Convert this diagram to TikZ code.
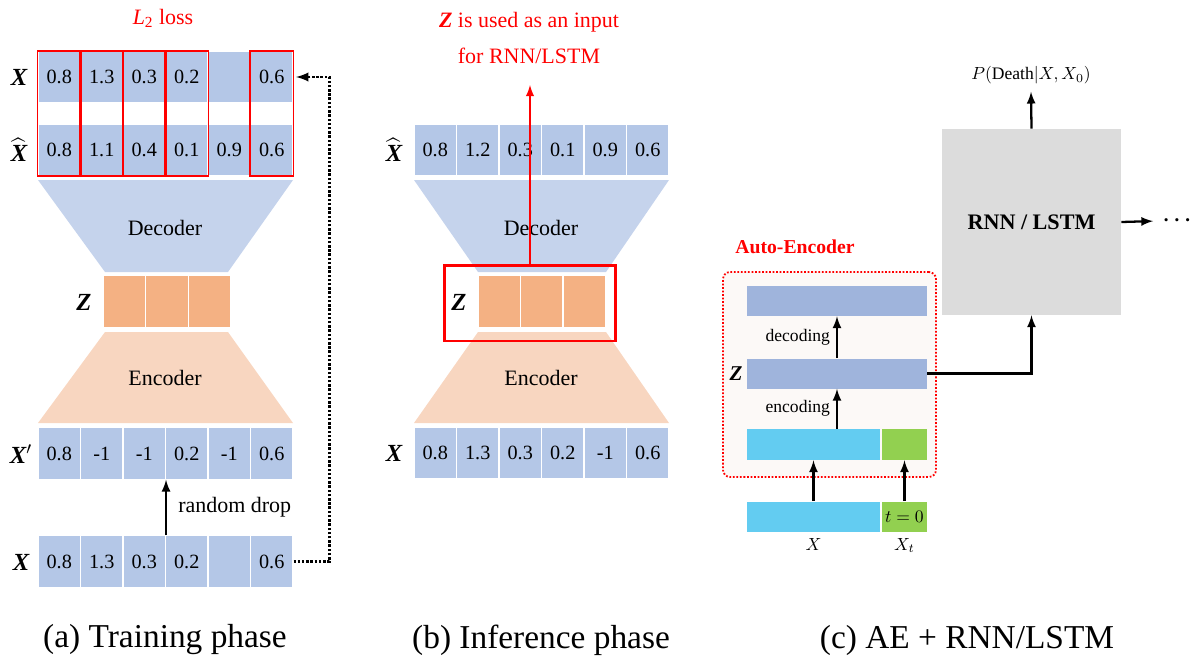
\documentclass[tikz,border=0pt]{standalone}
\usepackage{fontspec}
\setmainfont{Liberation Serif}
\usepackage{amsmath}

\definecolor{cellblue}{HTML}{B4C7E7}
\definecolor{decblue}{HTML}{C5D3EC}
\definecolor{zorange}{HTML}{F4B183}
\definecolor{encpeach}{HTML}{F8D6C0}
\definecolor{aebar}{HTML}{9FB4DC}
\definecolor{incyan}{HTML}{63CCF1}
\definecolor{tgreen}{HTML}{92D050}
\definecolor{rnngray}{HTML}{DCDCDC}
\definecolor{aefill}{HTML}{FCF9F7}

\begin{document}
\begin{tikzpicture}[x=0.02cm, y=-0.02cm, >=latex,
  cell/.style={draw=white, line width=0.6pt, fill=cellblue, minimum width=0.85cm, minimum height=1.03cm, inner sep=0pt, font=\fontsize{11.5}{13}\selectfont},
  zcell/.style={cell, fill=zorange},
  vec/.style={inner sep=1pt, font=\fontsize{14}{16}\selectfont\bfseries\itshape},
  body/.style={font=\fontsize{12.5}{15}\selectfont},
  small/.style={font=\fontsize{10}{12}\selectfont},
  caption/.style={font=\fontsize{19}{22}\selectfont},
  lossbox/.style={draw=red, line width=1.1pt},
  bar/.style={fill=aebar, minimum width=3.6cm, minimum height=0.6cm, inner sep=0pt},
  arr/.style={->, line width=1.3pt}]
\useasboundingbox (0,0) rectangle (1197,670) ;

% (a) training phase
\node[body, text=red] (loss) at (163,18) {\textit{L}\textsubscript{2} loss} ;
\foreach \v [count=\i] in {0.8,1.3,0.3,0.2,{},0.6}
  \node[cell] (xa\i) at (16.75+42.5*\i,77) {\v} ;
\foreach \v [count=\i] in {0.8,1.1,0.4,0.1,0.9,0.6}
  \node[cell] (xh\i) at (16.75+42.5*\i,150) {\v} ;
\foreach \i in {1,2,3,4,6}
  \draw[lossbox] (xa\i.north west) rectangle (xh\i.south east) ;
\node[vec] (la) at (19,77) {X} ;
\node[vec] (lh) at (19,150) {$\widehat{\mbox{X}}$} ;

\fill[decblue] (38,180) -- (293,180) -- (228,272) -- (105,272) -- cycle ;
\node[body] (deca) at (165,228) {Decoder} ;
\foreach \i in {1,2,3}
  \node[zcell] (za\i) at (82+42.5*\i,301.5) {} ;
\node[vec] (lza) at (84,302) {Z} ;
\fill[encpeach] (105,332) -- (228,332) -- (293,423) -- (38,423) -- cycle ;
\node[body] (enca) at (165,378) {Encoder} ;

\foreach \v [count=\i] in {0.8,-1,-1,0.2,-1,0.6}
  \node[cell] (xp\i) at (16.75+42.5*\i,453.5) {\v} ;
\node[vec] (lp) at (21,454) {$\mbox{X}'$} ;
\foreach \v [count=\i] in {0.8,1.3,0.3,0.2,{},0.6}
  \node[cell] (xb\i) at (16.75+42.5*\i,561.5) {\v} ;
\node[vec] (lb) at (21,562) {X} ;

\draw[arr] (xb3.north east) -- (xp3.south east) node[midway, right, body, xshift=3pt] {random drop} ;
\draw[->, densely dotted, line width=1.4pt, shorten >=1.5pt] (xb6.east) -- ++(36,0) |- (xa6.east) ;

% (b) inference phase
\node[body, text=red, align=center, font=\fontsize{12.5}{20}\selectfont] (zlbl) at (529,38) {\textbf{\textit{Z}} is used as an input\\for RNN/LSTM} ;
\foreach \v [count=\i] in {0.8,1.2,0.3,0.1,0.9,0.6}
  \node[cell] (yh\i) at (392.75+42.5*\i,150) {\v} ;
\node[vec] (lyh) at (394,150) {$\widehat{\mbox{X}}$} ;
\fill[decblue] (414,180) -- (669,180) -- (606,272) -- (478,272) -- cycle ;
\node[body] (decb) at (541,228) {Decoder} ;
\foreach \i in {1,2,3}
  \node[zcell] (zb\i) at (456.75+42.5*\i,301.5) {} ;
\node[vec] (lzb) at (459,302) {Z} ;
\fill[encpeach] (478,332) -- (606,332) -- (669,423) -- (414,423) -- cycle ;
\node[body] (encb) at (541,378) {Encoder} ;
\foreach \v [count=\i] in {0.8,1.3,0.3,0.2,-1,0.6}
  \node[cell] (yx\i) at (392.75+42.5*\i,453) {\v} ;
\node[vec] (lyx) at (394,453) {X} ;

\node[draw=red, line width=1.7pt, minimum width=3.44cm, minimum height=1.52cm] (zfr) at (530,303) {} ;
\coordinate (ztip) at (530,85) ;
\draw[->, red, line width=1.2pt] (zfr.north) -- (ztip) ;

% (c) AE + RNN/LSTM
\node[fill=rnngray, minimum width=3.58cm, minimum height=3.72cm, font=\fontsize{12.6}{15}\selectfont\bfseries] (rnn) at (1031.5,222) {RNN / LSTM} ;
\node[small] (pout) at (1031,75) {$P(\mathrm{Death}|X,X_0)$} ;
\draw[arr, shorten >=1pt] (rnn.north) -- (pout.south) ;
\node[font=\fontsize{12}{14}\selectfont] (more) at (1179,221) {$\boldsymbol{\cdots}$} ;
\draw[arr, shorten >=2pt] (rnn.east) -- (more.west) ;

\node[draw=red, densely dotted, line width=1pt, rounded corners=4pt, fill=aefill, minimum width=4.26cm, minimum height=4.1cm] (ae) at (829.5,374.5) {} ;
\node[font=\fontsize{11.2}{13}\selectfont\bfseries, text=red] (aelbl) at (795,247) {Auto-Encoder} ;
\node[bar] (bdec) at (837,301) {} ;
\node[bar] (bz) at (837,373.5) {} ;
\node[bar, fill=incyan, minimum width=2.66cm, minimum height=0.62cm] (bin) at (813.5,444.5) {} ;
\node[bar, fill=tgreen, minimum width=0.9cm, minimum height=0.62cm] (bgr) at (904.5,444.5) {} ;
\node[bar, fill=incyan, minimum width=2.66cm] (bxin) at (813.5,516.5) {} ;
\node[bar, fill=tgreen, minimum width=0.9cm, small] (bt) at (904.5,516.5) {$t=0$} ;
\node[font=\fontsize{12}{14}\selectfont\bfseries\itshape] (lzc) at (736,374) {Z} ;

\draw[arr] (bxin.north) -- (bin.south) ;
\draw[arr] (bt.north) -- (bgr.south) ;
\draw[arr] (bz.south |- bin.north) -- (bz.south) node[midway, left, small] {encoding} ;
\draw[arr] (bz.north) -- (bdec.south) node[midway, left, small] {decoding} ;
\draw[arr] (bz.east) -| (rnn.south) ;
\node[small, below] (lx) at (bxin.south) {$X$} ;
\node[small, below] (lxt) at (bt.south) {$X_t$} ;

% captions
\node[caption] (capa) at (165,640) {(a) Training phase} ;
\node[caption] (capb) at (541,640) {(b) Inference phase} ;
\node[caption] (capc) at (967,640) {(c) AE + RNN/LSTM} ;
\end{tikzpicture}
\end{document}
